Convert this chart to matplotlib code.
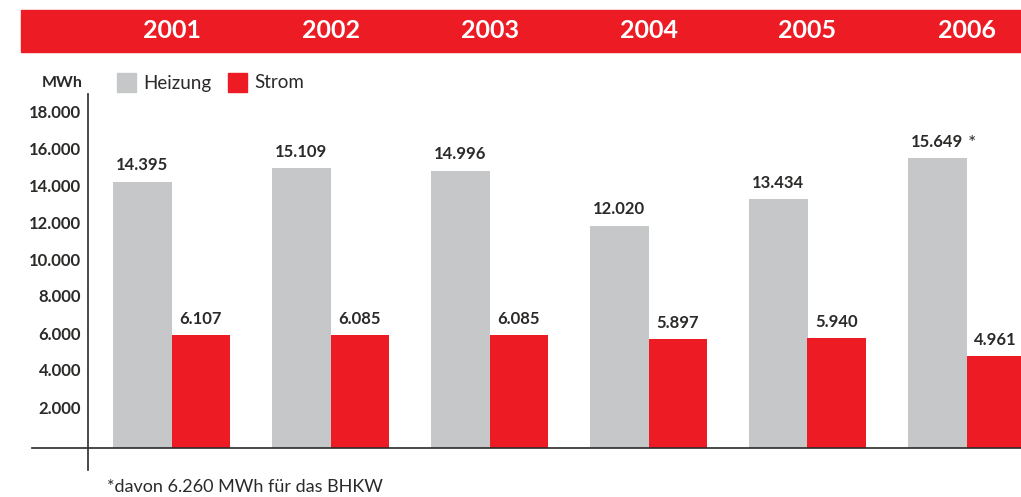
import numpy as np
import matplotlib.pyplot as plt
import matplotlib.transforms as mtransforms
from matplotlib.patches import Rectangle

jahre = ['2001', '2002', '2003', '2004', '2005', '2006']
heizung = [14395, 15109, 14996, 12020, 13434, 15649]
strom = [6107, 6085, 6085, 5897, 5940, 4961]
marker = ['', '', '', '', '', '*']
yticks = [2000, 4000, 6000, 8000, 10000, 12000, 14000, 16000, 18000]

grau = '#c6c7c9'
rot = '#ed1c24'
dunkel = '#2b2a29'

plt.rcParams['font.family'] = ['Lato', 'DejaVu Sans']

def fmt(v):
    return f'{v:,}'.replace(',', '.')

W, H = 1021, 497
fig = plt.figure(figsize=(W / 100, H / 100), dpi=100)

# achse in pixeln: links 88, rechts 1021, oben 94, unten 470
ax = fig.add_axes([88 / W, (H - 470) / H, (W - 88) / W, (470 - 94) / H])
px = 18.5 / 1000  # px pro MWh
ax.set_ylim(-(470 - 448) / px, (448 - 94) / px)
x = np.arange(len(jahre))
ax.set_xlim((88 - 171.5) / 159, (1021 - 171.5) / 159)

bw = 58.5 / 159
ax.bar(x - bw / 2, heizung, bw, color=grau, label='Heizung')
ax.bar(x + bw / 2, strom, bw, color=rot, label='Strom')

for i in range(len(jahre)):
    ax.annotate(fmt(heizung[i]), (x[i] - bw / 2, heizung[i]), xytext=(0, 6),
                textcoords='offset points', ha='center', va='bottom',
                fontsize=12, fontweight='bold', color=dunkel)
    ax.annotate(fmt(strom[i]), (x[i] + bw / 2, strom[i]), xytext=(0, 6),
                textcoords='offset points', ha='center', va='bottom',
                fontsize=12, fontweight='bold', color=dunkel)
    if marker[i]:
        ax.annotate(marker[i], (x[i] - bw / 2, heizung[i]), xytext=(22, 5),
                    textcoords='offset points', ha='left', va='bottom',
                    fontsize=14, color=dunkel)

ax.set_yticks(yticks)
ax.set_yticklabels([fmt(t) for t in yticks], fontsize=12, fontweight='bold', color=dunkel)
ax.tick_params(axis='y', length=0, pad=5)
# beschriftung im original etwas hoeher als die skala
shift = mtransforms.ScaledTranslation(0, 4 / 100, fig.dpi_scale_trans)
for lab in ax.get_yticklabels():
    lab.set_transform(lab.get_transform() + shift)
ax.set_xticks([])
for s in ['top', 'right', 'bottom']:
    ax.spines[s].set_visible(False)
ax.spines['left'].set_color(dunkel)
ax.spines['left'].set_linewidth(1.2)
ax.axhline(0, xmin=-(88 - 32) / (W - 88), xmax=1, color=dunkel, lw=1.2, clip_on=False)

# roter kopfbalken mit jahren
fig.patches.append(Rectangle((21 / W, (H - 52) / H), (W - 21) / W, 42 / H,
                             transform=fig.transFigure, color=rot, zorder=0))
for i, j in enumerate(jahre):
    xf = ax.transData.transform((x[i], 0))[0] / W
    fig.text(xf, (H - 31) / H, j, ha='center', va='center', color='white',
             fontsize=18, fontweight='bold')

fig.text(83 / W, (H - 83) / H, 'MWh', ha='right', va='center',
         fontsize=11.5, fontweight='bold', color=dunkel)

# legende
for xs, farbe, name in [(117, grau, 'Heizung'), (228, rot, 'Strom')]:
    fig.patches.append(Rectangle((xs / W, (H - 92) / H), 19 / W, 19 / H,
                                 transform=fig.transFigure, color=farbe))
    fig.text((xs + 26) / W, (H - 83) / H, name, ha='left', va='center',
             fontsize=13.5, color=dunkel)

fig.text(107 / W, (H - 487) / H, '*davon 6.260 MWh für das BHKW', ha='left',
         va='center', fontsize=13, color=dunkel)

fig.savefig('out.png', dpi=100)
